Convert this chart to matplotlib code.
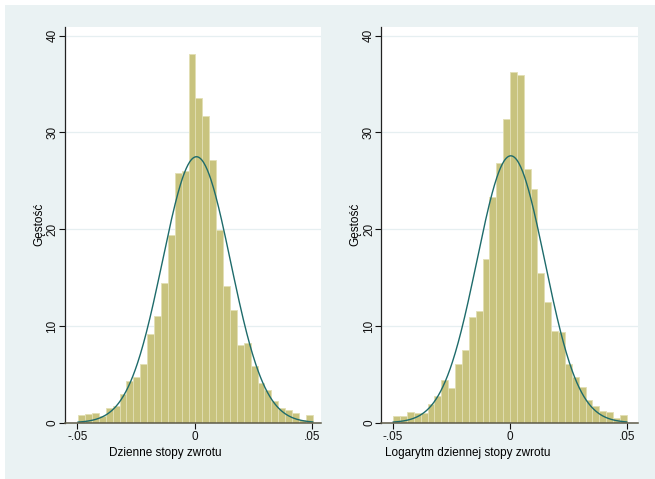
#!/usr/bin/env python3
"""
Histogramy dziennych stóp zwrotu z nałożoną gęstością normalną
"""

import numpy as np
import matplotlib
matplotlib.use('Agg')
import matplotlib.pyplot as plt
from matplotlib.patches import Rectangle

plt.rcParams['font.family'] = ['Liberation Sans', 'DejaVu Sans']
plt.rcParams['axes.unicode_minus'] = False

# dane (gęstość w każdym z 34 przedziałów)
simple_heights = [0.8, 0.9, 1.0, 0.7, 1.55, 1.75, 3.0, 4.3, 4.75, 6.1,
                  9.2, 11.0, 14.4, 19.4, 25.8, 26.0, 38.1, 33.6, 31.7, 27.2,
                  19.9, 14.1, 11.7, 8.0, 8.2, 5.9, 4.1, 3.4, 2.2, 1.5,
                  1.3, 1.0, 0.25, 0.75]
simple_range = (-0.0497, 0.0502)
simple_mean, simple_sd = 0.0007, 0.01451

log_heights = [0.69, 0.69, 1.1, 0.97, 0.97, 1.93, 2.76, 4.4, 3.55, 6.07,
               7.5, 10.97, 11.55, 16.9, 23.3, 26.8, 31.4, 36.2, 35.9, 26.2,
               24.2, 15.5, 12.5, 9.5, 9.4, 6.1, 4.76, 3.66, 2.34, 1.72,
               1.2, 1.1, 0.45, 0.76]
log_range = (-0.0498, 0.0497)
log_mean, log_sd = 0.0003, 0.01446

x_ticks = [-0.05, 0, 0.05]
x_ticklabels = ['-.05', '0', '.05']
y_ticks = [0, 10, 20, 30, 40]

BAR_COLOR = '#C8C37E'
BAR_EDGE = '#E2DFB4'
CURVE_COLOR = '#1E6B6B'
FRAME_COLOR = '#EAF2F3'
GRID_COLOR = '#E6EFF1'


def draw_panel(ax, heights, xrange_, mean, sd, xlabel, xlim, label_x):
    n = len(heights)
    edges = np.linspace(xrange_[0], xrange_[1], n + 1)
    width = edges[1] - edges[0]
    ax.bar(edges[:-1], heights, width=width, align='edge',
           color=BAR_COLOR, edgecolor=BAR_EDGE, linewidth=0.6, zorder=2)

    # gęstość rozkładu normalnego
    xs = np.linspace(xrange_[0], xrange_[1], 400)
    ys = np.exp(-0.5 * ((xs - mean) / sd) ** 2) / (sd * np.sqrt(2 * np.pi))
    ax.plot(xs, ys, color=CURVE_COLOR, linewidth=1.0, zorder=3)

    ax.set_xlim(*xlim)
    ax.set_ylim(0, 40.9)
    ax.set_xticks(x_ticks)
    ax.set_xticklabels(x_ticklabels)
    ax.set_yticks(y_ticks)
    ax.set_yticklabels([str(v) for v in y_ticks], rotation=90, va='center')
    ax.yaxis.grid(True, color=GRID_COLOR, linewidth=0.9, zorder=0)
    ax.set_axisbelow(True)

    for s in ['top', 'right']:
        ax.spines[s].set_visible(False)
    ax.spines['left'].set_color('#222222')
    ax.spines['left'].set_linewidth(0.9)
    ax.spines['bottom'].set_color('#5E5B48')
    ax.spines['bottom'].set_linewidth(1.1)
    ax.spines['bottom'].set_zorder(4)

    ax.tick_params(axis='both', direction='out', length=4, width=0.8,
                   colors='#111111', labelsize=8.5)
    ax.tick_params(axis='x', pad=2)
    ax.tick_params(axis='y', pad=0.5)
    ax.set_ylabel('Gęstość', fontsize=8.5, labelpad=1)
    ax.set_xlabel(xlabel, fontsize=8.5)
    ax.xaxis.set_label_coords(label_x, -0.062)


fig = plt.figure(figsize=(6.55, 4.79), dpi=100)
fig.patch.set_facecolor('white')
fig.patches.append(Rectangle((5 / 655, 0), 1 - 5 / 655, 1 - 5 / 479,
                             transform=fig.transFigure, facecolor=FRAME_COLOR,
                             edgecolor='none', zorder=-10))

ax1 = fig.add_axes([0.0988, 0.1175, 0.3908, 0.8261])
ax2 = fig.add_axes([0.5821, 0.1175, 0.3912, 0.8261])

draw_panel(ax1, simple_heights, simple_range, simple_mean, simple_sd,
           'Dzienne stopy zwrotu', (-0.0554, 0.0536), 0.392)
draw_panel(ax2, log_heights, log_range, log_mean, log_sd,
           'Logarytm dziennej stopy zwrotu', (-0.0549, 0.0543), 0.338)

plt.savefig('out.png', dpi=100)
